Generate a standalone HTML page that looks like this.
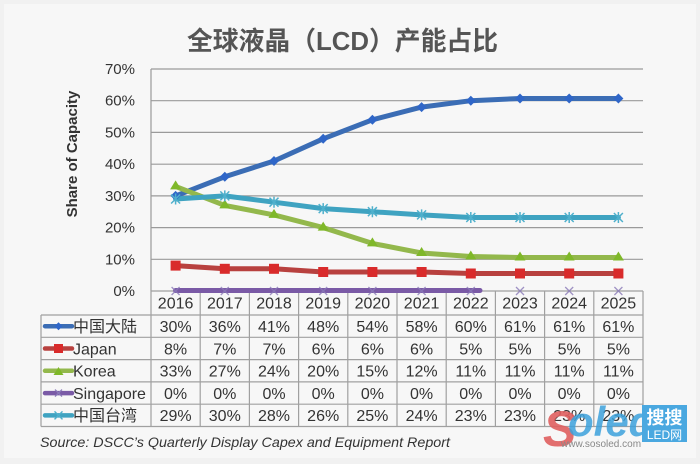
<!DOCTYPE html>
<html>
<head>
<meta charset="utf-8">
<style>
html,body{margin:0;padding:0;background:#f3f3f3;}
svg{display:block;}
text{font-family:"Liberation Sans","Noto Sans CJK SC",sans-serif;}
</style>
</head>
<body>
<svg width="700" height="464" viewBox="0 0 700 464" xmlns="http://www.w3.org/2000/svg">
  <rect x="0" y="0" width="700" height="464" fill="#f1f1f1"/>
  <rect x="4" y="4" width="692" height="454" fill="#f7f7f7"/>

  <!-- Title -->
  <text x="187" y="50" font-size="26" font-weight="bold" fill="#555" textLength="311" lengthAdjust="spacingAndGlyphs">全球液晶（LCD）产能占比</text>

  <!-- Y axis title -->
  <text transform="translate(77,154) rotate(-90)" text-anchor="middle" font-size="15" font-weight="bold" fill="#333">Share of Capacity</text>

  <!-- gridlines -->
  <g stroke="#9a9a9a" stroke-width="1.2">
    <line x1="151" y1="69" x2="643" y2="69"/>
    <line x1="151" y1="100.7" x2="643" y2="100.7"/>
    <line x1="151" y1="132.4" x2="643" y2="132.4"/>
    <line x1="151" y1="164.2" x2="643" y2="164.2"/>
    <line x1="151" y1="195.9" x2="643" y2="195.9"/>
    <line x1="151" y1="227.6" x2="643" y2="227.6"/>
    <line x1="151" y1="259.3" x2="643" y2="259.3"/>
    <line x1="151" y1="69" x2="151" y2="291"/>
  </g>

  <!-- y tick labels -->
  <g font-size="15" fill="#333" text-anchor="end">
    <text x="135" y="74">70%</text>
    <text x="135" y="105.7">60%</text>
    <text x="135" y="137.4">50%</text>
    <text x="135" y="169.2">40%</text>
    <text x="135" y="200.9">30%</text>
    <text x="135" y="232.6">20%</text>
    <text x="135" y="264.3">10%</text>
    <text x="135" y="296">0%</text>
  </g>

  <!-- Table grid -->
  <g stroke="#a0a0a0" stroke-width="1.2" fill="none">
    <line x1="151" y1="291" x2="643" y2="291"/>
    <line x1="41" y1="315" x2="643" y2="315"/>
    <line x1="41" y1="337.3" x2="643" y2="337.3"/>
    <line x1="41" y1="359.6" x2="643" y2="359.6"/>
    <line x1="41" y1="381.9" x2="643" y2="381.9"/>
    <line x1="41" y1="404.2" x2="643" y2="404.2"/>
    <line x1="41" y1="426.5" x2="643" y2="426.5"/>
    <line x1="41" y1="315" x2="41" y2="426.5"/>
    <line x1="151" y1="291" x2="151" y2="426.5"/>
    <line x1="200.2" y1="291" x2="200.2" y2="426.5"/>
    <line x1="249.4" y1="291" x2="249.4" y2="426.5"/>
    <line x1="298.6" y1="291" x2="298.6" y2="426.5"/>
    <line x1="347.8" y1="291" x2="347.8" y2="426.5"/>
    <line x1="397" y1="291" x2="397" y2="426.5"/>
    <line x1="446.2" y1="291" x2="446.2" y2="426.5"/>
    <line x1="495.4" y1="291" x2="495.4" y2="426.5"/>
    <line x1="544.6" y1="291" x2="544.6" y2="426.5"/>
    <line x1="593.8" y1="291" x2="593.8" y2="426.5"/>
    <line x1="643" y1="291" x2="643" y2="426.5"/>
  </g>

  <!-- Series lines -->
  <g fill="none" stroke-width="5" stroke-linejoin="round" stroke-linecap="round">
    <!-- blue -->
    <polyline stroke="#3b6db5" points="175.6,195.9 224.8,176.8 274,161 323.2,138.8 372.4,119.8 421.6,107.1 470.8,100.7 520,98.5 569.2,98.5 618.4,98.5"/>
    <!-- red -->
    <polyline stroke="#b8413f" points="175.6,265.6 224.8,268.8 274,268.8 323.2,272 372.4,272 421.6,272 470.8,273.5 520,273.5 569.2,273.5 618.4,273.5"/>
    <!-- green -->
    <polyline stroke="#93b84c" points="175.6,186.4 224.8,205.4 274,214.9 323.2,227.6 372.4,243.4 421.6,253 470.8,256.5 520,257.5 569.2,257.5 618.4,257.5"/>
    <!-- purple -->
    <polyline stroke="#7a5aa6" points="175.6,290.5 480,290.5"/>
    <!-- teal -->
    <polyline stroke="#3fa3c1" points="175.6,199 224.8,195.9 274,202.2 323.2,208.6 372.4,211.7 421.6,214.9 470.8,217.5 520,217.5 569.2,217.5 618.4,217.5"/>
  </g>

  <!-- markers -->
  <g fill="#2f66c8">
    <path d="M175.6,190.9 l5,5 l-5,5 l-5,-5z"/>
    <path d="M224.8,171.8 l5,5 l-5,5 l-5,-5z"/>
    <path d="M274,156 l5,5 l-5,5 l-5,-5z"/>
    <path d="M323.2,133.8 l5,5 l-5,5 l-5,-5z"/>
    <path d="M372.4,114.8 l5,5 l-5,5 l-5,-5z"/>
    <path d="M421.6,102.1 l5,5 l-5,5 l-5,-5z"/>
    <path d="M470.8,95.7 l5,5 l-5,5 l-5,-5z"/>
    <path d="M520,93.5 l5,5 l-5,5 l-5,-5z"/>
    <path d="M569.2,93.5 l5,5 l-5,5 l-5,-5z"/>
    <path d="M618.4,93.5 l5,5 l-5,5 l-5,-5z"/>
  </g>
  <g fill="#d92b2b">
    <rect x="170.6" y="260.6" width="10" height="10"/>
    <rect x="219.8" y="263.8" width="10" height="10"/>
    <rect x="269" y="263.8" width="10" height="10"/>
    <rect x="318.2" y="267" width="10" height="10"/>
    <rect x="367.4" y="267" width="10" height="10"/>
    <rect x="416.6" y="267" width="10" height="10"/>
    <rect x="465.8" y="268.5" width="10" height="10"/>
    <rect x="515" y="268.5" width="10" height="10"/>
    <rect x="564.2" y="268.5" width="10" height="10"/>
    <rect x="613.4" y="268.5" width="10" height="10"/>
  </g>
  <g fill="#7fb829">
    <path d="M175.6,180.4 l5.5,9 l-11,0z"/>
    <path d="M224.8,199.4 l5.5,9 l-11,0z"/>
    <path d="M274,208.9 l5.5,9 l-11,0z"/>
    <path d="M323.2,221.6 l5.5,9 l-11,0z"/>
    <path d="M372.4,237.4 l5.5,9 l-11,0z"/>
    <path d="M421.6,247 l5.5,9 l-11,0z"/>
    <path d="M470.8,250.5 l5.5,9 l-11,0z"/>
    <path d="M520,251.5 l5.5,9 l-11,0z"/>
    <path d="M569.2,251.5 l5.5,9 l-11,0z"/>
    <path d="M618.4,251.5 l5.5,9 l-11,0z"/>
  </g>
  <g stroke="#8a7ab8" stroke-width="1.3" opacity="0.8">
    <path d="M171.6,287 l8,8 M179.6,287 l-8,8"/>
    <path d="M220.8,287 l8,8 M228.8,287 l-8,8"/>
    <path d="M270,287 l8,8 M278,287 l-8,8"/>
    <path d="M319.2,287 l8,8 M327.2,287 l-8,8"/>
    <path d="M368.4,287 l8,8 M376.4,287 l-8,8"/>
    <path d="M417.6,287 l8,8 M425.6,287 l-8,8"/>
    <path d="M466.8,287 l8,8 M474.8,287 l-8,8"/>
    <path d="M516,287 l8,8 M524,287 l-8,8"/>
    <path d="M565.2,287 l8,8 M573.2,287 l-8,8"/>
    <path d="M614.4,287 l8,8 M622.4,287 l-8,8"/>
  </g>
  <g stroke="#4fb0cc" stroke-width="1.5">
    <path d="M171.1,194.5 l9,9 M180.1,194.5 l-9,9 M175.6,193.5 v11"/>
    <path d="M220.3,191.4 l9,9 M229.3,191.4 l-9,9 M224.8,190.4 v11"/>
    <path d="M269.5,197.7 l9,9 M278.5,197.7 l-9,9 M274,196.7 v11"/>
    <path d="M318.7,204.1 l9,9 M327.7,204.1 l-9,9 M323.2,203.1 v11"/>
    <path d="M367.9,207.2 l9,9 M376.9,207.2 l-9,9 M372.4,206.2 v11"/>
    <path d="M417.1,210.4 l9,9 M426.1,210.4 l-9,9 M421.6,209.4 v11"/>
    <path d="M466.3,213 l9,9 M475.3,213 l-9,9 M470.8,212 v11"/>
    <path d="M515.5,213 l9,9 M524.5,213 l-9,9 M520,212 v11"/>
    <path d="M564.7,213 l9,9 M573.7,213 l-9,9 M569.2,212 v11"/>
    <path d="M613.9,213 l9,9 M622.9,213 l-9,9 M618.4,212 v11"/>
  </g>

  <!-- Header years -->
  <g font-size="16" fill="#333" text-anchor="middle">
    <text x="175.6" y="308.5">2016</text>
    <text x="224.8" y="308.5">2017</text>
    <text x="274" y="308.5">2018</text>
    <text x="323.2" y="308.5">2019</text>
    <text x="372.4" y="308.5">2020</text>
    <text x="421.6" y="308.5">2021</text>
    <text x="470.8" y="308.5">2022</text>
    <text x="520" y="308.5">2023</text>
    <text x="569.2" y="308.5">2024</text>
    <text x="618.4" y="308.5">2025</text>
  </g>

  <!-- Legend samples -->
  <g stroke-width="4.5" stroke-linecap="round">
    <line x1="45" y1="326.2" x2="72" y2="326.2" stroke="#3b6db5"/>
    <line x1="45" y1="348.5" x2="72" y2="348.5" stroke="#b8413f"/>
    <line x1="45" y1="370.8" x2="72" y2="370.8" stroke="#93b84c"/>
    <line x1="45" y1="393.1" x2="72" y2="393.1" stroke="#7a5aa6"/>
    <line x1="45" y1="415.4" x2="72" y2="415.4" stroke="#3fa3c1"/>
  </g>
  <path d="M58.5,322.2 l4,4 l-4,4 l-4,-4z" fill="#2f66c8"/>
  <rect x="54" y="344" width="9" height="9" fill="#d92b2b"/>
  <path d="M58.5,367 l5,8 l-10,0z" fill="#7fb829"/>
  <path d="M55,389.6 l7,7 M62,389.6 l-7,7" stroke="#8a7ab8" stroke-width="1.3"/>
  <path d="M54.5,411.4 l8,8 M62.5,411.4 l-8,8" stroke="#4fb0cc" stroke-width="1.4"/>

  <!-- Legend labels -->
  <g font-size="16" fill="#333">
    <text x="73" y="332">中国大陆</text>
    <text x="73" y="354.3">Japan</text>
    <text x="73" y="376.6">Korea</text>
    <text x="73" y="398.9">Singapore</text>
    <text x="73" y="421.2">中国台湾</text>
  </g>

  <!-- Table values -->
  <g font-size="16" fill="#333" text-anchor="middle">
    <text x="175.6" y="332">30%</text><text x="224.8" y="332">36%</text><text x="274" y="332">41%</text><text x="323.2" y="332">48%</text><text x="372.4" y="332">54%</text><text x="421.6" y="332">58%</text><text x="470.8" y="332">60%</text><text x="520" y="332">61%</text><text x="569.2" y="332">61%</text><text x="618.4" y="332">61%</text>
    <text x="175.6" y="354.3">8%</text><text x="224.8" y="354.3">7%</text><text x="274" y="354.3">7%</text><text x="323.2" y="354.3">6%</text><text x="372.4" y="354.3">6%</text><text x="421.6" y="354.3">6%</text><text x="470.8" y="354.3">5%</text><text x="520" y="354.3">5%</text><text x="569.2" y="354.3">5%</text><text x="618.4" y="354.3">5%</text>
    <text x="175.6" y="376.6">33%</text><text x="224.8" y="376.6">27%</text><text x="274" y="376.6">24%</text><text x="323.2" y="376.6">20%</text><text x="372.4" y="376.6">15%</text><text x="421.6" y="376.6">12%</text><text x="470.8" y="376.6">11%</text><text x="520" y="376.6">11%</text><text x="569.2" y="376.6">11%</text><text x="618.4" y="376.6">11%</text>
    <text x="175.6" y="398.9">0%</text><text x="224.8" y="398.9">0%</text><text x="274" y="398.9">0%</text><text x="323.2" y="398.9">0%</text><text x="372.4" y="398.9">0%</text><text x="421.6" y="398.9">0%</text><text x="470.8" y="398.9">0%</text><text x="520" y="398.9">0%</text><text x="569.2" y="398.9">0%</text><text x="618.4" y="398.9">0%</text>
    <text x="175.6" y="421.2">29%</text><text x="224.8" y="421.2">30%</text><text x="274" y="421.2">28%</text><text x="323.2" y="421.2">26%</text><text x="372.4" y="421.2">25%</text><text x="421.6" y="421.2">24%</text><text x="470.8" y="421.2">23%</text><text x="520" y="421.2">23%</text><text x="569.2" y="421.2">23%</text><text x="618.4" y="421.2">23%</text>
  </g>

  <!-- Source -->
  <text x="40" y="447" font-size="14" font-style="italic" fill="#333" textLength="410" lengthAdjust="spacingAndGlyphs">Source: DSCC’s Quarterly Display Capex and Equipment Report</text>

  <!-- Watermark -->
  <text x="543" y="446" font-size="50" font-style="italic" font-weight="bold" fill="#e06060" opacity="0.9">S</text>
  <text x="568" y="436" font-size="42" font-style="italic" font-weight="bold" fill="#3da2dc" opacity="0.85">oled</text>
  <text x="561" y="447" font-size="10" fill="#888">www.sosoled.com</text>
  <rect x="642" y="405" width="45" height="37" fill="#4aa8e0"/>
  <text x="664.5" y="424" font-size="18" font-weight="bold" fill="#fff" text-anchor="middle">搜搜</text>
  <text x="664.5" y="439" font-size="12" fill="#fff" text-anchor="middle">LED网</text>
</svg>
</body>
</html>
